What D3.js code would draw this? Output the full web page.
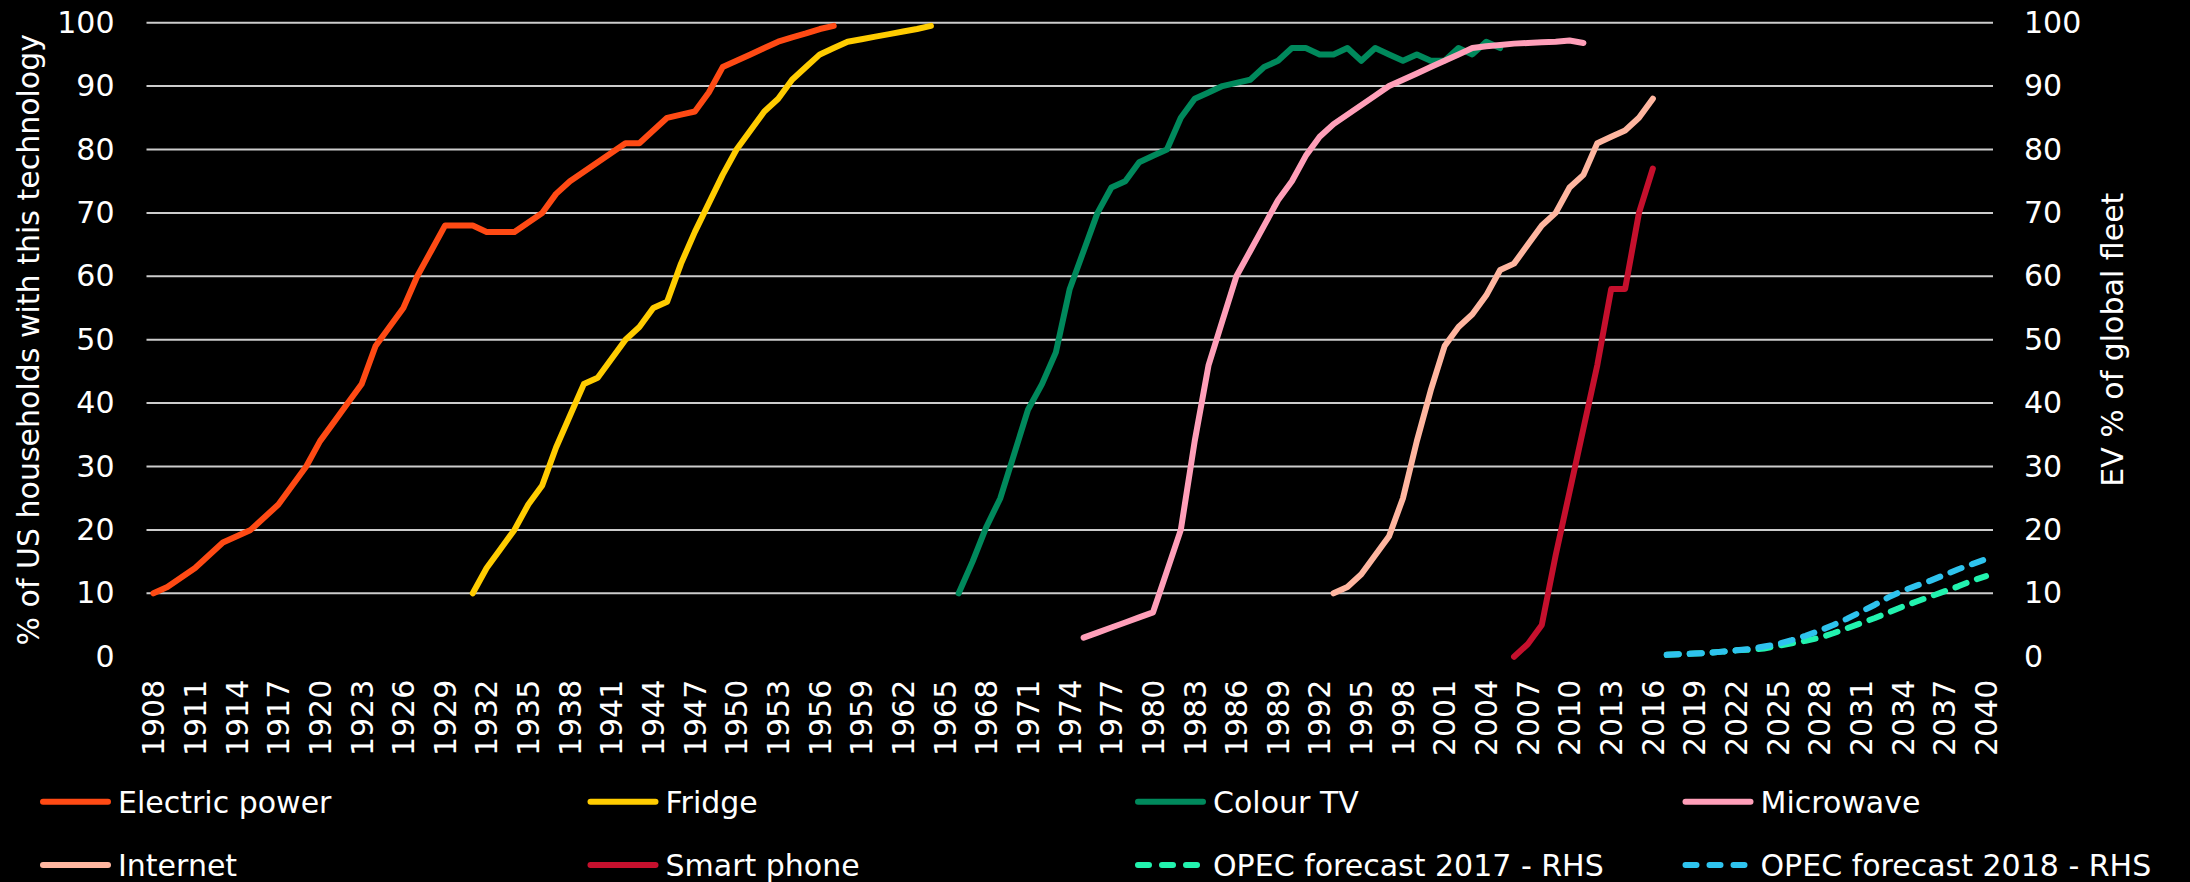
<!DOCTYPE html>
<html>
<head>
<meta charset="utf-8">
<script src="https://cdn.jsdelivr.net/npm/d3@7"></script>
<style>
  html, body { margin: 0; padding: 0; background: #000; }
  svg { display: block; }
  text { font-family: "DejaVu Sans", sans-serif; fill: #fff; }
</style>
</head>
<body>
<div class="chart_container"></div>
<script>
// categories: one per year, 1908 - 2040
var years = d3.range(1908, 2041);
var xTickLabels = [1908, 1911, 1914, 1917, 1920, 1923, 1926, 1929, 1932, 1935, 1938, 1941, 1944, 1947,
    1950, 1953, 1956, 1959, 1962, 1965, 1968, 1971, 1974, 1977, 1980, 1983, 1986, 1989, 1992, 1995,
    1998, 2001, 2004, 2007, 2010, 2013, 2016, 2019, 2022, 2025, 2028, 2031, 2034, 2037, 2040];
var yTickLabels = [0, 10, 20, 30, 40, 50, 60, 70, 80, 90, 100];

// % of US households (LHS)
var electricPower = [10, 11, 12.5, 14, 16, 18, 19, 20, 22, 24,
    27, 30, 34, 37, 40, 43, 49, 52, 55, 60,
    64, 68, 68, 68, 67, 67, 67, 68.5, 70, 73,
    75, 76.5, 78, 79.5, 81, 81, 83, 85, 85.5, 86,
    89, 93, 94, 95, 96, 97, 97.7, 98.3, 99, 99.5];           // 1908-1957
var fridge = [10, 14, 17, 20, 24, 27, 33, 38, 43, 44,
    47, 50, 52, 55, 56, 62, 67, 71.5, 76, 80,
    83, 86, 88, 91, 93, 95, 96, 97, 97.4, 97.8,
    98.2, 98.6, 99, 99.5];                                   // 1931-1964
var colourTV = [10, 15, 20.5, 25, 32, 39, 43, 48, 58, 64,
    70, 74, 75, 78, 79, 80, 85, 88, 89, 90,
    90.5, 91, 93, 94, 96, 96, 95, 95, 96, 94,
    96, 95, 94, 95, 94, 94, 96, 95, 97, 96];                 // 1966-2005
var microwave = [3, 3.8, 4.6, 5.4, 6.2, 7,
    13.5, 20, 34, 46, 53, 60, 64, 68, 72, 75,
    79, 82, 84, 85.5, 87, 88.5, 90, 91, 92, 93,
    94, 95, 96, 96.3, 96.5, 96.7, 96.8, 96.9, 97, 97.2, 96.8]; // 1975-2011
var internet = [10, 11, 13, 16, 19, 25, 34, 42, 49, 52,
    54, 57, 61, 62, 65, 68, 70, 74, 76, 81,
    82, 83, 85, 88];                                         // 1993-2016
var smartPhone = [0, 2, 5, 16, 26, 36, 46, 58, 58, 70, 77];  // 2006-2016

// EV % of global fleet (RHS)
var opec2017 = [0.3, 0.4, 0.5, 0.6, 0.8, 1.0, 1.1, 1.3, 1.7, 2.1,
    2.5, 3.0, 3.7, 4.5, 5.3, 6.1, 7.0, 7.9, 8.7, 9.5,
    10.3, 11.1, 12.0, 12.7];                                 // 2017-2040
var opec2018 = [0.3, 0.4, 0.5, 0.6, 0.8, 1.0, 1.2, 1.6, 2.0, 2.6,
    3.3, 4.1, 5.0, 6.0, 7.1, 8.2, 9.4, 10.4, 11.2, 12.0,
    12.9, 13.8, 14.6, 15.4];                                 // 2017-2040

var series = [
    {name: "Electric power", start: 1908, values: electricPower, color: "#ff4a14", axis: "left"},
    {name: "Fridge", start: 1931, values: fridge, color: "#ffcc00", axis: "left"},
    {name: "Colour TV", start: 1966, values: colourTV, color: "#00895c", axis: "left"},
    {name: "Microwave", start: 1975, values: microwave, color: "#ff9fb9", axis: "left"},
    {name: "Internet", start: 1993, values: internet, color: "#ffb6a0", axis: "left"},
    {name: "Smart phone", start: 2006, values: smartPhone, color: "#c5102d", axis: "left"},
    {name: "OPEC forecast 2017 - RHS", start: 2017, values: opec2017, color: "#22f2ae", axis: "right", dashed: true},
    {name: "OPEC forecast 2018 - RHS", start: 2017, values: opec2018, color: "#2ec3ee", axis: "right", dashed: true}
];

var width = 2190, height = 882;
var plotLeft = 146.5, plotRight = 1993, plotTop = 22.7, plotBottom = 656.7;

var svg = d3.select(".chart_container").append("svg")
    .attr("width", width)
    .attr("height", height);

svg.append("rect").attr("width", width).attr("height", height).attr("fill", "#000");

var x = d3.scaleBand().domain(years).range([plotLeft, plotRight]);
var yLeft = d3.scaleLinear().domain([0, 100]).range([plotBottom, plotTop]);
var yRight = d3.scaleLinear().domain([0, 100]).range([plotBottom, plotTop]);

// gridlines (none at 0)
svg.append("g").selectAll("line")
    .data(yTickLabels.filter(d => d > 0))
    .enter().append("line")
        .attr("x1", plotLeft).attr("x2", plotRight)
        .attr("y1", d => yLeft(d)).attr("y2", d => yLeft(d))
        .style("stroke", "#cccccc")
        .style("stroke-width", "2px");

// x axis
var xAxis = svg.append("g")
    .attr("transform", "translate(0," + plotBottom + ")")
    .call(d3.axisBottom(x).tickValues(xTickLabels).tickSize(0));
xAxis.selectAll("text")
    .attr("transform", "rotate(-90)")
    .attr("x", -23)
    .attr("y", 0)
    .attr("dy", "0.36em")
    .style("text-anchor", "end");

// y axes
var yAxisL = svg.append("g")
    .attr("transform", "translate(" + plotLeft + ",0)")
    .call(d3.axisLeft(yLeft).tickValues(yTickLabels).tickSize(0).tickPadding(32));
var yAxisR = svg.append("g")
    .attr("transform", "translate(" + plotRight + ",0)")
    .call(d3.axisRight(yRight).tickValues(yTickLabels).tickSize(0).tickPadding(31));
[xAxis, yAxisL, yAxisR].forEach(a => {
    a.attr("font-family", null).attr("font-size", null);
    a.select(".domain").remove();
    a.selectAll("text")
        .style("font-size", "30px")
        .style("fill", "#fff");
});

// axis titles
svg.append("text")
    .attr("transform", "translate(39," + ((plotTop + plotBottom) / 2) + ") rotate(-90)")
    .style("text-anchor", "middle")
    .style("font-size", "30px")
    .text("% of US households with this technology");

svg.append("text")
    .attr("transform", "translate(2123," + ((plotTop + plotBottom) / 2) + ") rotate(-90)")
    .style("text-anchor", "middle")
    .style("font-size", "30px")
    .text("EV % of global fleet");

// lines
var lines = svg.append("g").attr("id", "series");
series.forEach(s => {
    var pts = s.values.map((v, i) => ({year: s.start + i, value: v}));
    var yScale = s.axis == "right" ? yRight : yLeft;
    var line = d3.line()
        .x(d => x(d.year) + x.bandwidth() / 2)
        .y(d => yScale(d.value));
    var p = lines.append("path")
        .datum(pts)
        .attr("d", line)
        .style("fill", "none")
        .style("stroke", s.color)
        .style("stroke-linejoin", "round")
        .style("stroke-linecap", "round")
        .style("stroke-width", "6px");
    if (s.dashed) p.style("stroke-dasharray", "12,11");
});

// legend
var legend = svg.append("g").attr("id", "legend");
series.forEach((s, i) => {
    var lx = 40 + (i % 4) * 547.5;
    var ly = 801.7 + Math.floor(i / 4) * 63.3;
    var item = legend.append("g").attr("transform", "translate(" + lx + "," + ly + ")");
    item.append("line")
        .attr("x1", 3).attr("x2", 68)
        .attr("y1", 0).attr("y2", 0)
        .style("stroke", s.color)
        .style("stroke-width", "6px")
        .style("stroke-linecap", "round")
        .style("stroke-dasharray", s.dashed ? "11,13" : null);
    item.append("text")
        .attr("x", 78)
        .attr("dy", "0.36em")
        .style("font-size", "30px")
        .text(s.name);
});
</script>
</body>
</html>
